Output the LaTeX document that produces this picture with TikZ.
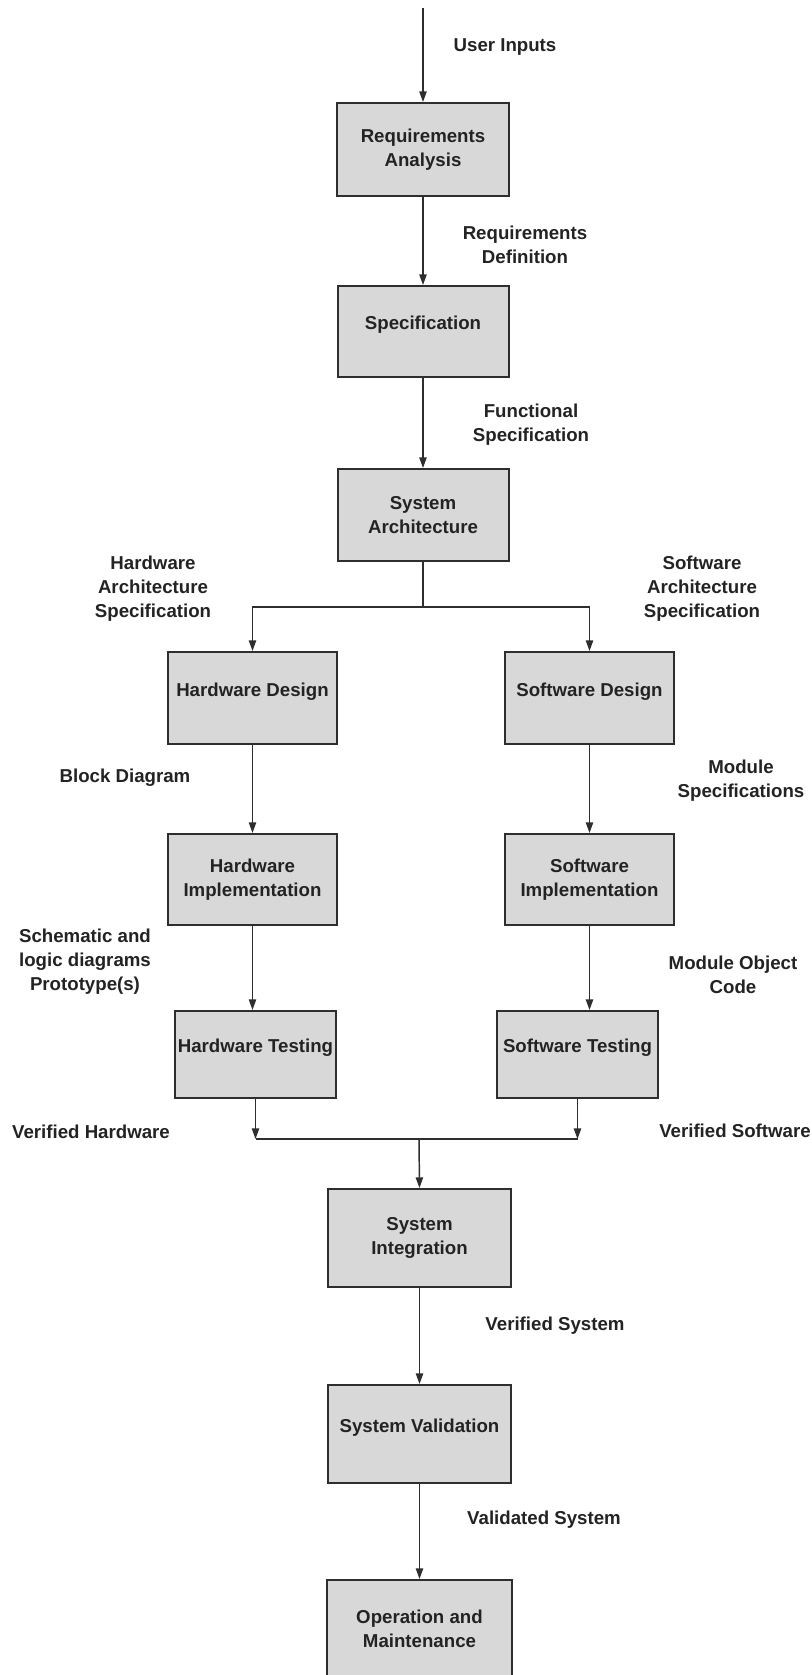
\documentclass[tikz,border=0pt]{standalone}
\usepackage{fontspec}
\setmainfont{Liberation Sans}
\usepackage{xcolor}
\definecolor{boxgrey}{HTML}{D8D8D8}
\definecolor{edgegrey}{HTML}{2E2E2E}
\definecolor{inkgrey}{HTML}{232323}
\usetikzlibrary{arrows.meta}

\begin{document}
\begin{tikzpicture}[x=0.75pt, y=-0.75pt,
  font=\fontsize{14}{18}\selectfont\bfseries, text=inkgrey,
  stage/.style={draw=edgegrey, fill=boxgrey, line width=1.5pt, align=center, inner sep=0pt},
  boxsize/.style 2 args={minimum width=#1*0.75pt, minimum height=#2*0.75pt},
  oneline/.style={text height=10pt, text depth=13pt},
  flow/.style={draw=edgegrey, line width=1.1pt, -{Triangle[length=8pt, width=5.5pt]}},
  flowlbl/.style={align=center}]
\useasboundingbox (0,0) rectangle (811,1675);
\fill[white] (0,0) rectangle (811,1675);

% main chain
\node[stage, boxsize={172}{93}] (reqana) at (423,149.5) {Requirements\\Analysis};
\node[stage, oneline, boxsize={171}{91}] (spec) at (423,331.5) {Specification};
\node[stage, boxsize={171}{92}] (sysarch) at (423,515) {System\\Architecture};

% hardware and software branches
\node[stage, oneline, boxsize={169}{92}] (hwdes) at (252.5,698) {Hardware Design};
\node[stage, oneline, boxsize={169}{92}] (swdes) at (589.5,698) {Software Design};
\node[stage, boxsize={169}{91}] (hwimp) at (252.5,879.5) {Hardware\\Implementation};
\node[stage, boxsize={169}{91}] (swimp) at (589.5,879.5) {Software\\Implementation};
\node[stage, oneline, boxsize={161}{87}] (hwtest) at (255.5,1054.5) {Hardware Testing};
\node[stage, oneline, boxsize={161}{87}] (swtest) at (577.5,1054.5) {Software Testing};

% system level again
\node[stage, boxsize={183}{98}] (sysint) at (419.5,1238) {System\\Integration};
\node[stage, oneline, boxsize={183}{98}] (sysval) at (419.5,1434) {System Validation};
\node[stage, boxsize={185}{98}] (opmaint) at (419.5,1629) {Operation and\\Maintenance};

% connectors
\coordinate (inputs) at (423,8);
\coordinate (fork) at (423,607);
\coordinate (join) at (419,1139);
\draw[flow] (inputs) -- (reqana.north);
\draw[flow] (reqana) -- (spec);
\draw[flow] (spec) -- (sysarch);
\draw[edgegrey, line width=1.1pt] (sysarch.south) -- (fork);
\draw[flow] (fork) -| (hwdes.north);
\draw[flow] (fork) -| (swdes.north);
\draw[flow] (hwdes) -- (hwimp);
\draw[flow] (swdes) -- (swimp);
\draw[flow] (hwimp.south) -- (hwimp.south |- hwtest.north);
\draw[flow] (swimp.south) -- (swimp.south |- swtest.north);
\draw[flow] (hwtest.south) -- (hwtest.south |- join);
\draw[flow] (swtest.south) -- (swtest.south |- join);
\draw[edgegrey, line width=1.1pt] (hwtest.south |- join) -- (swtest.south |- join);
\draw[flow] (join) -- (sysint.north);
\draw[flow] (sysint) -- (sysval);
\draw[flow] (sysval) -- (opmaint);

% labels on the flows
\node[flowlbl] (lblinputs) at (505,47) {User Inputs};
\node[flowlbl] (lblreqdef) at (525,245) {Requirements\\Definition};
\node[flowlbl] (lblfunc) at (531,425) {Functional\\Specification};
\node[flowlbl] (lblhwarch) at (153,589) {Hardware\\Architecture\\Specification};
\node[flowlbl] (lblswarch) at (702,589) {Software\\Architecture\\Specification};
\node[flowlbl] (lblblock) at (125,778) {Block Diagram};
\node[flowlbl] (lblmodspec) at (741,781) {Module\\Specifications};
\node[flowlbl] (lblschem) at (85,962) {Schematic and\\logic diagrams\\Prototype(s)};
\node[flowlbl] (lblobj) at (733,975) {Module Object\\Code};
\node[flowlbl] (lblvhw) at (91,1132) {Verified Hardware};
\node[flowlbl] (lblvsw) at (735,1131) {Verified Software};
\node[flowlbl] (lblvsys) at (555,1326) {Verified System};
\node[flowlbl] (lblvalsys) at (544,1520) {Validated System};
\end{tikzpicture}
\end{document}
